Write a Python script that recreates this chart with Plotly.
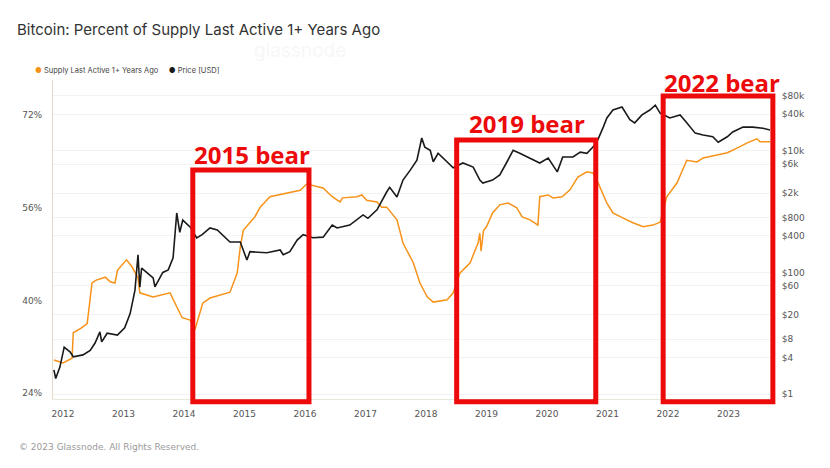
import plotly.graph_objs as go

# Supply last active 1+ years ago (%)
supply_years = [2011.85, 2012.0, 2012.15, 2012.17, 2012.3, 2012.4, 2012.48, 2012.55, 2012.7, 2012.78,
                2012.86, 2012.9, 2013.05, 2013.14, 2013.24, 2013.27, 2013.49, 2013.77, 2013.88, 2013.97,
                2014.1, 2014.18, 2014.31, 2014.43, 2014.76, 2014.88, 2014.93, 2014.98, 2015.17, 2015.26,
                2015.42, 2015.7, 2015.92, 2016.03, 2016.3, 2016.45, 2016.58, 2016.62, 2016.86, 2016.94,
                2017.02, 2017.19, 2017.27, 2017.35, 2017.52, 2017.62, 2017.79, 2017.9, 2018.02, 2018.12,
                2018.35, 2018.45, 2018.56, 2018.73, 2018.86, 2018.89, 2018.91, 2018.95, 2019.0, 2019.1,
                2019.22, 2019.36, 2019.5, 2019.59, 2019.72, 2019.85, 2019.88, 2020.02, 2020.1, 2020.25,
                2020.38, 2020.51, 2020.66, 2020.76, 2020.84, 2020.99, 2021.09, 2021.26, 2021.42, 2021.59,
                2021.75, 2021.87, 2021.98, 2022.15, 2022.31, 2022.48, 2022.58, 2022.81, 2022.98, 2023.14,
                2023.31, 2023.47, 2023.52, 2023.69]
supply_pct = [29.7, 29.2, 30.0, 34.4, 35.2, 36.0, 43.0, 43.5, 44.0, 43.2,
              43.0, 45.2, 47.0, 45.8, 43.9, 41.3, 40.6, 41.3, 38.9, 37.0,
              36.6, 34.9, 39.5, 40.4, 41.4, 44.7, 49.2, 52.1, 54.4, 56.1,
              57.9, 58.5, 59.0, 60.1, 59.4, 57.9, 57.0, 57.7, 57.9, 58.2,
              57.3, 57.0, 56.1, 56.1, 53.9, 49.9, 46.5, 43.0, 40.6, 39.7,
              40.1, 41.3, 44.7, 46.5, 49.9, 51.6, 48.5, 52.0, 52.7, 55.1,
              56.5, 56.8, 56.0, 54.4, 53.9, 53.0, 57.9, 58.2, 57.7, 57.9,
              59.1, 61.3, 62.2, 62.0, 60.4, 56.8, 55.1, 54.2, 53.4, 52.7,
              53.0, 53.5, 57.9, 60.3, 64.2, 63.9, 64.6, 65.1, 65.5, 66.3,
              67.2, 67.9, 67.4, 67.4]

# BTC price (USD)
price_years = [2011.85, 2011.88, 2011.95, 2012.02, 2012.12, 2012.17, 2012.33, 2012.45, 2012.53, 2012.61,
               2012.64, 2012.73, 2012.9, 2013.02, 2013.11, 2013.19, 2013.24, 2013.27, 2013.3, 2013.49,
               2013.52, 2013.65, 2013.74, 2013.82, 2013.88, 2013.93, 2013.98, 2014.1, 2014.21, 2014.3,
               2014.43, 2014.55, 2014.76, 2014.93, 2015.04, 2015.09, 2015.37, 2015.59, 2015.64, 2015.75,
               2015.87, 2015.97, 2016.13, 2016.3, 2016.45, 2016.53, 2016.74, 2016.96, 2017.04, 2017.19,
               2017.35, 2017.4, 2017.52, 2017.62, 2017.74, 2017.85, 2017.93, 2017.98, 2018.07, 2018.12,
               2018.2, 2018.35, 2018.45, 2018.61, 2018.78, 2018.89, 2018.94, 2019.1, 2019.22, 2019.34,
               2019.44, 2019.55, 2019.72, 2019.88, 2020.02, 2020.17, 2020.26, 2020.43, 2020.55, 2020.66,
               2020.76, 2020.84, 2020.93, 2020.99, 2021.09, 2021.24, 2021.37, 2021.45, 2021.57, 2021.7,
               2021.79, 2021.87, 2022.03, 2022.2, 2022.31, 2022.45, 2022.58, 2022.74, 2022.83, 2022.98,
               2023.07, 2023.24, 2023.4, 2023.57, 2023.69]
price_usd = [2.5, 1.8, 2.8, 5.9, 4.9, 4.1, 4.4, 5.2, 6.9, 10.5,
             7.2, 10.0, 9.3, 12.3, 21, 51, 195, 57, 118, 81,
             58, 100, 110, 174, 950, 457, 725, 560, 370, 417,
             540, 500, 316, 316, 160, 219, 210, 234, 195, 219,
             340, 417, 372, 380, 600, 537, 600, 880, 776, 1070,
             2100, 2500, 1740, 3300, 4800, 7000, 16200, 11500, 10200, 6600,
             9100, 6600, 5250, 6300, 5400, 3300, 2950, 3300, 4000, 6600,
             10200, 9100, 7600, 6300, 7600, 4500, 7900, 7900, 9500, 9100,
             11500, 15100, 24500, 34700, 46800, 52500, 32400, 28800, 38900, 46800,
             56200, 41700, 34700, 38900, 28800, 19500, 18200, 17000, 13800, 17000,
             20400, 24500, 24500, 23400, 21900]

year_ticks = list(range(2012, 2024))
pct_ticks = [24, 40, 56, 72]
price_ticks = [1, 4, 8, 20, 60, 100, 400, 800, 2000, 6000, 10000, 40000, 80000]
price_labels = ['$1', '$4', '$8', '$20', '$60', '$100', '$400', '$800', '$2k', '$6k', '$10k', '$40k', '$80k']

ORANGE = '#f7931a'
RED = '#ec0a0a'
TICKFONT = dict(family='DejaVu Sans', size=9, color='#555555')

supply = go.Scatter(x=supply_years, y=supply_pct, mode='lines', name='Supply Last Active 1+ Years Ago',
                    line=dict(color=ORANGE, width=1.5), yaxis='y')
price = go.Scatter(x=price_years, y=price_usd, mode='lines', name='Price [USD]',
                   line=dict(color='#1a1a1a', width=1.6), yaxis='y2')

layout = go.Layout(
    width=830, height=468,
    paper_bgcolor='white', plot_bgcolor='white',
    margin=dict(l=53, r=60, t=80, b=69),
    showlegend=False,
    font=dict(family='Inter', color='#333333'),
    title=dict(text='Bitcoin: Percent of Supply Last Active 1+ Years Ago',
               x=17 / 830, xanchor='left', y=1 - 30 / 468, yanchor='middle',
               font=dict(family='Inter', size=15, color='#333333')),
    xaxis=dict(range=[2011.835, 2023.686], tickvals=year_ticks, ticktext=[str(y) for y in year_ticks],
               showgrid=False, zeroline=False, showline=True, linecolor='#ebe6dc', linewidth=1,
               ticks='outside', ticklen=6, tickcolor='rgba(0,0,0,0)', tickfont=TICKFONT),
    yaxis=dict(range=[22.96, 78.06], tickvals=pct_ticks, ticktext=['%d%%' % p for p in pct_ticks],
               showgrid=False, zeroline=False, showline=True, linecolor='#e6dcc6', linewidth=1,
               ticks='outside', ticklen=8, tickcolor='rgba(0,0,0,0)', tickfont=TICKFONT),
    yaxis2=dict(type='log', range=[-0.082, 5.164], overlaying='y', side='right',
                tickvals=price_ticks, ticktext=price_labels,
                showgrid=True, gridcolor='#f2f2f2', gridwidth=1, zeroline=False, showline=False,
                ticks='outside', ticklen=9, tickcolor='rgba(0,0,0,0)', tickfont=TICKFONT),
)

fig = go.Figure(data=[supply, price], layout=layout)

# legend drawn as text with coloured dots
fig.add_annotation(xref='paper', yref='paper', x=-0.028, y=1.031, xanchor='left', yanchor='middle',
                   showarrow=False, font=dict(family='Inter', size=7.5, color='#444444'),
                   text='<span style="color:%s">●</span> Supply Last Active 1+ Years Ago'
                        '&nbsp;&nbsp;&nbsp;&nbsp;&nbsp;<span style="color:#1a1a1a">●</span> Price [USD]' % ORANGE)

# faint watermark
fig.add_annotation(xref='paper', yref='paper', x=0.344, y=1.094, xanchor='center', yanchor='middle',
                   showarrow=False, text='glassnode', font=dict(family='Inter', size=19, color='#f7f7f7'))

# footer
fig.add_annotation(xref='paper', yref='paper', x=-0.05, y=-0.15, xanchor='left', yanchor='middle',
                   showarrow=False, text='© 2023 Glassnode. All Rights Reserved.',
                   font=dict(family='DejaVu Sans', size=9, color='#9a9a9a'))

# bear market boxes and labels
bears = [('2015 bear', 0.195, 0.357, 0.718, 0.2775, 0.768),
         ('2019 bear', 0.563, 0.757, 0.812, 0.661, 0.865),
         ('2022 bear', 0.851, 1.004, 0.950, 0.933, 0.991)]
for label, x0, x1, y1, tx, ty in bears:
    fig.add_shape(type='rect', xref='paper', yref='paper', x0=x0, x1=x1, y0=-0.009, y1=y1,
                  line=dict(color=RED, width=5), fillcolor='rgba(0,0,0,0)', layer='above')
    fig.add_annotation(xref='paper', yref='paper', x=tx, y=ty, xanchor='center', yanchor='middle',
                       showarrow=False, text='<b>%s</b>' % label,
                       font=dict(family='Open Sans', size=24, color=RED, weight=800))

fig.write_html('out.html', config={'displayModeBar': False},
               post_script="document.body.style.margin='0';")
